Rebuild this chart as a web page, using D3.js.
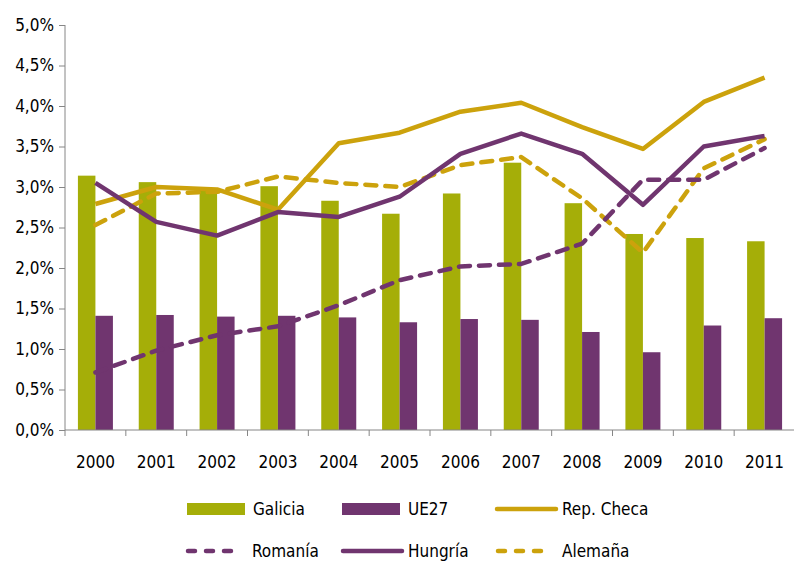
<!DOCTYPE html>
<html>
<head>
<meta charset="utf-8">
<script src="https://cdn.jsdelivr.net/npm/d3@7"></script>
<style>
  body { margin: 0; background: #fff; }
  text { font-family: "Liberation Sans Narrow", "DejaVu Sans Condensed", sans-serif; fill: #000; }
</style>
</head>
<body>
<div id="chart"></div>
<script>
var years = ["2000","2001","2002","2003","2004","2005","2006","2007","2008","2009","2010","2011"];
var galicia = [3.14, 3.06, 2.97, 3.01, 2.83, 2.67, 2.92, 3.30, 2.80, 2.42, 2.37, 2.33];
var ue27 = [1.41, 1.42, 1.40, 1.41, 1.39, 1.33, 1.37, 1.36, 1.21, 0.96, 1.29, 1.38];
var repCheca = [2.79, 3.00, 2.97, 2.72, 3.54, 3.67, 3.93, 4.04, 3.74, 3.47, 4.05, 4.35];
var romania = [0.71, 0.98, 1.17, 1.28, 1.54, 1.85, 2.02, 2.05, 2.30, 3.09, 3.09, 3.48];
var hungria = [3.05, 2.57, 2.40, 2.69, 2.63, 2.88, 3.41, 3.66, 3.41, 2.78, 3.50, 3.63];
var alemania = [2.53, 2.92, 2.94, 3.13, 3.05, 3.00, 3.27, 3.37, 2.86, 2.19, 3.23, 3.59];
var yTicks = [0, 0.5, 1, 1.5, 2, 2.5, 3, 3.5, 4, 4.5, 5];

var width = 794, height = 561;
var green = "#a5ae08", purple = "#70356f", gold = "#cca20c";

var svg = d3.select("#chart").append("svg")
  .attr("width", width)
  .attr("height", height);

var x = d3.scaleBand().domain(years).range([65, 795]);
var y = d3.scaleLinear().domain([0, 5]).range([430, 25]);
var inner = d3.scaleBand().domain(["g", "u"]).range([0, 35]);
var off = (x.bandwidth() - 35) / 2;

// y axis
var yAxis = svg.append("g").attr("transform", "translate(65,0)")
  .call(d3.axisLeft(y).tickValues(yTicks).tickSize(6).tickPadding(5)
    .tickFormat(function(d) { return d.toFixed(1).replace(".", ",") + "%"; }));
yAxis.selectAll("text").style("font-size", "17px");
yAxis.selectAll("line, path").attr("stroke", "#868686");
yAxis.select(".domain").attr("d", "M0,25V430");

// bars
svg.selectAll(".bg").data(galicia).enter().append("rect")
  .attr("x", function(d, i) { return x(years[i]) + off + inner("g"); })
  .attr("y", function(d) { return y(d); })
  .attr("width", inner.bandwidth())
  .attr("height", function(d) { return y(0) - y(d); })
  .attr("fill", green);

svg.selectAll(".bu").data(ue27).enter().append("rect")
  .attr("x", function(d, i) { return x(years[i]) + off + inner("u"); })
  .attr("y", function(d) { return y(d); })
  .attr("width", inner.bandwidth())
  .attr("height", function(d) { return y(0) - y(d); })
  .attr("fill", purple);

// x axis
var xAxis = svg.append("g").attr("transform", "translate(0,430)");
xAxis.append("line").attr("x1", 65).attr("x2", 795).attr("stroke", "#868686");
xAxis.selectAll(".tk").data(years).enter().append("line")
  .attr("x1", function(d) { return x(d); })
  .attr("x2", function(d) { return x(d); })
  .attr("y2", 6).attr("stroke", "#868686");
xAxis.selectAll(".lb").data(years).enter().append("text")
  .attr("x", function(d) { return x(d) + x.bandwidth() / 2; })
  .attr("y", 38)
  .attr("text-anchor", "middle")
  .style("font-size", "17px")
  .text(function(d) { return d; });

// lines
var line = d3.line()
  .x(function(d, i) { return x(years[i]) + x.bandwidth() / 2; })
  .y(function(d) { return y(d); });

var series = [
  { values: repCheca, color: gold, dash: null },
  { values: alemania, color: gold, dash: "11,9" },
  { values: romania, color: purple, dash: "11,9" },
  { values: hungria, color: purple, dash: null }
];
series.forEach(function(s) {
  svg.append("path")
    .attr("d", line(s.values))
    .attr("fill", "none")
    .attr("stroke", s.color)
    .attr("stroke-width", 4.5)
    .attr("stroke-linejoin", "round")
    .attr("stroke-linecap", s.dash ? "round" : "butt")
    .attr("stroke-dasharray", s.dash);
});

// legend
var legend = [
  { name: "Galicia", type: "rect", color: green, x: 187, y: 509 },
  { name: "UE27", type: "rect", color: purple, x: 342, y: 509 },
  { name: "Rep. Checa", type: "line", color: gold, x: 496, y: 509 },
  { name: "Romanía", type: "dash", color: purple, x: 186, y: 551 },
  { name: "Hungría", type: "line", color: purple, x: 342, y: 551 },
  { name: "Alemaña", type: "dash", color: gold, x: 496, y: 551 }
];
var lg = svg.selectAll(".lg").data(legend).enter().append("g")
  .attr("transform", function(d) { return "translate(" + d.x + "," + d.y + ")"; });
lg.filter(function(d) { return d.type === "rect"; }).append("rect")
  .attr("y", -6).attr("width", 58).attr("height", 12)
  .attr("fill", function(d) { return d.color; });
lg.filter(function(d) { return d.type !== "rect"; }).append("line")
  .attr("x1", function(d) { return d.type === "dash" ? 2 : 1; })
  .attr("x2", function(d) { return d.type === "dash" ? 53 : 60; })
  .attr("stroke", function(d) { return d.color; })
  .attr("stroke-width", 4.5)
  .attr("stroke-linecap", "round")
  .attr("stroke-dasharray", function(d) { return d.type === "dash" ? "7,11" : null; });
lg.append("text")
  .attr("x", 66)
  .attr("dy", "0.35em")
  .style("font-size", "17px")
  .text(function(d) { return d.name; });
</script>
</body>
</html>
